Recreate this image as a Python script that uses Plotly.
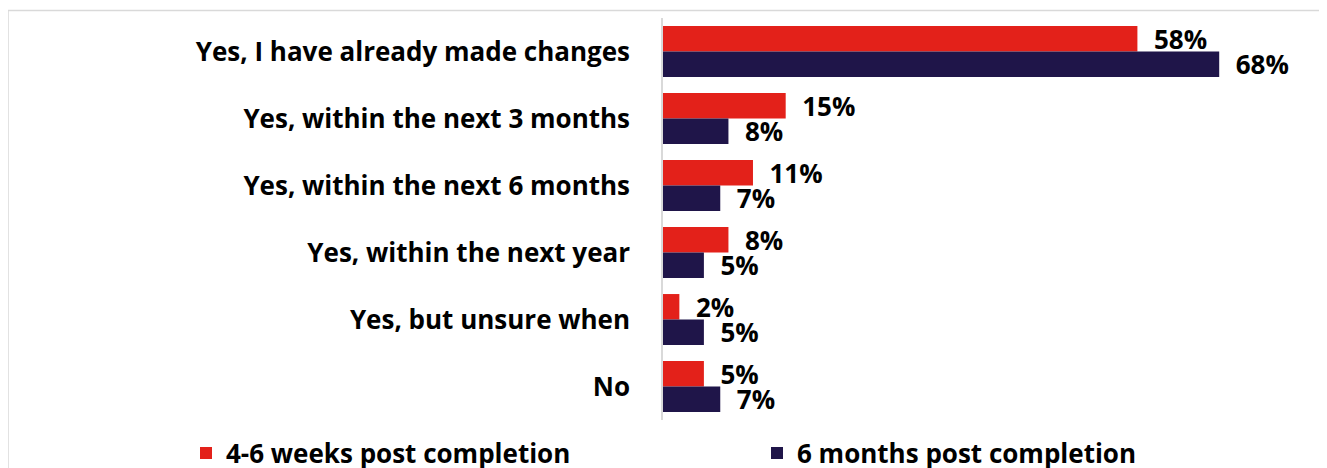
import plotly.graph_objects as go

categories = [
    "Yes, I have already made changes",
    "Yes, within the next 3 months",
    "Yes, within the next 6 months",
    "Yes, within the next year",
    "Yes, but unsure when",
    "No",
]
weeks_4_6 = [58, 15, 11, 8, 2, 5]
months_6 = [68, 8, 7, 5, 5, 7]
series_names = ["4-6 weeks post completion", "6 months post completion"]

RED = "#E3211A"
NAVY = "#1F1549"
FONT = "Open Sans"
FS = 26

# page offset: the figure div sits 8px in from the page corner
OFF = 8
W, H = 1327, 468
ML, MR, MT, MB = 663 - OFF, 16, 18 - OFF, H - (420 - OFF)
PW, PH = W - ML - MR, H - MT - MB


def px_x(px):
    return (px - OFF - ML) / PW


def px_y(py):
    return (H - MB - (py - OFF)) / PH


fig = go.Figure()
for name, vals, col, leg in [(series_names[0], weeks_4_6, RED, "legend"),
                             (series_names[1], months_6, NAVY, "legend2")]:
    fig.add_trace(go.Bar(
        y=categories, x=vals, name=name, orientation="h", legend=leg,
        marker=dict(color=col, line=dict(width=0)),
        text=[f"\u00a0\u00a0{v}%" for v in vals],
        textposition="outside", cliponaxis=False, constraintext="none",
        textfont=dict(family=FONT, size=FS, color="black", weight="bold"),
    ))

leg_font = dict(family=FONT, size=FS, color="black", weight="bold")
fig.update_layout(
    width=W, height=H,
    margin=dict(l=ML, r=MR, t=MT, b=MB, autoexpand=False),
    barmode="group", bargap=0.24, bargroupgap=0,
    plot_bgcolor="white", paper_bgcolor="white",
    font=dict(family=FONT, size=FS, color="black", weight="bold"),
    xaxis=dict(range=[0, 80.2], visible=False, fixedrange=True),
    yaxis=dict(
        autorange="reversed", showgrid=False, zeroline=False,
        showline=True, linecolor="#d9d9d9", linewidth=1.5,
        ticks="", ticklabelstandoff=26,
        tickfont=dict(family=FONT, size=FS, color="black", weight="bold"),
    ),
    legend=dict(orientation="h", x=px_x(186), y=px_y(453), xanchor="left",
                yanchor="middle", font=leg_font),
    legend2=dict(orientation="h", x=px_x(757), y=px_y(453), xanchor="left",
                 yanchor="middle", font=leg_font),
    showlegend=True,
)

# light grey frame around the chart area
fig.add_shape(
    type="rect", xref="paper", yref="paper",
    x0=px_x(8), x1=px_x(1345), y0=px_y(490), y1=px_y(10.5),
    line=dict(color="#d9d9d9", width=1.5), fillcolor="rgba(0,0,0,0)", layer="below",
)

fig.write_html("out.html")
